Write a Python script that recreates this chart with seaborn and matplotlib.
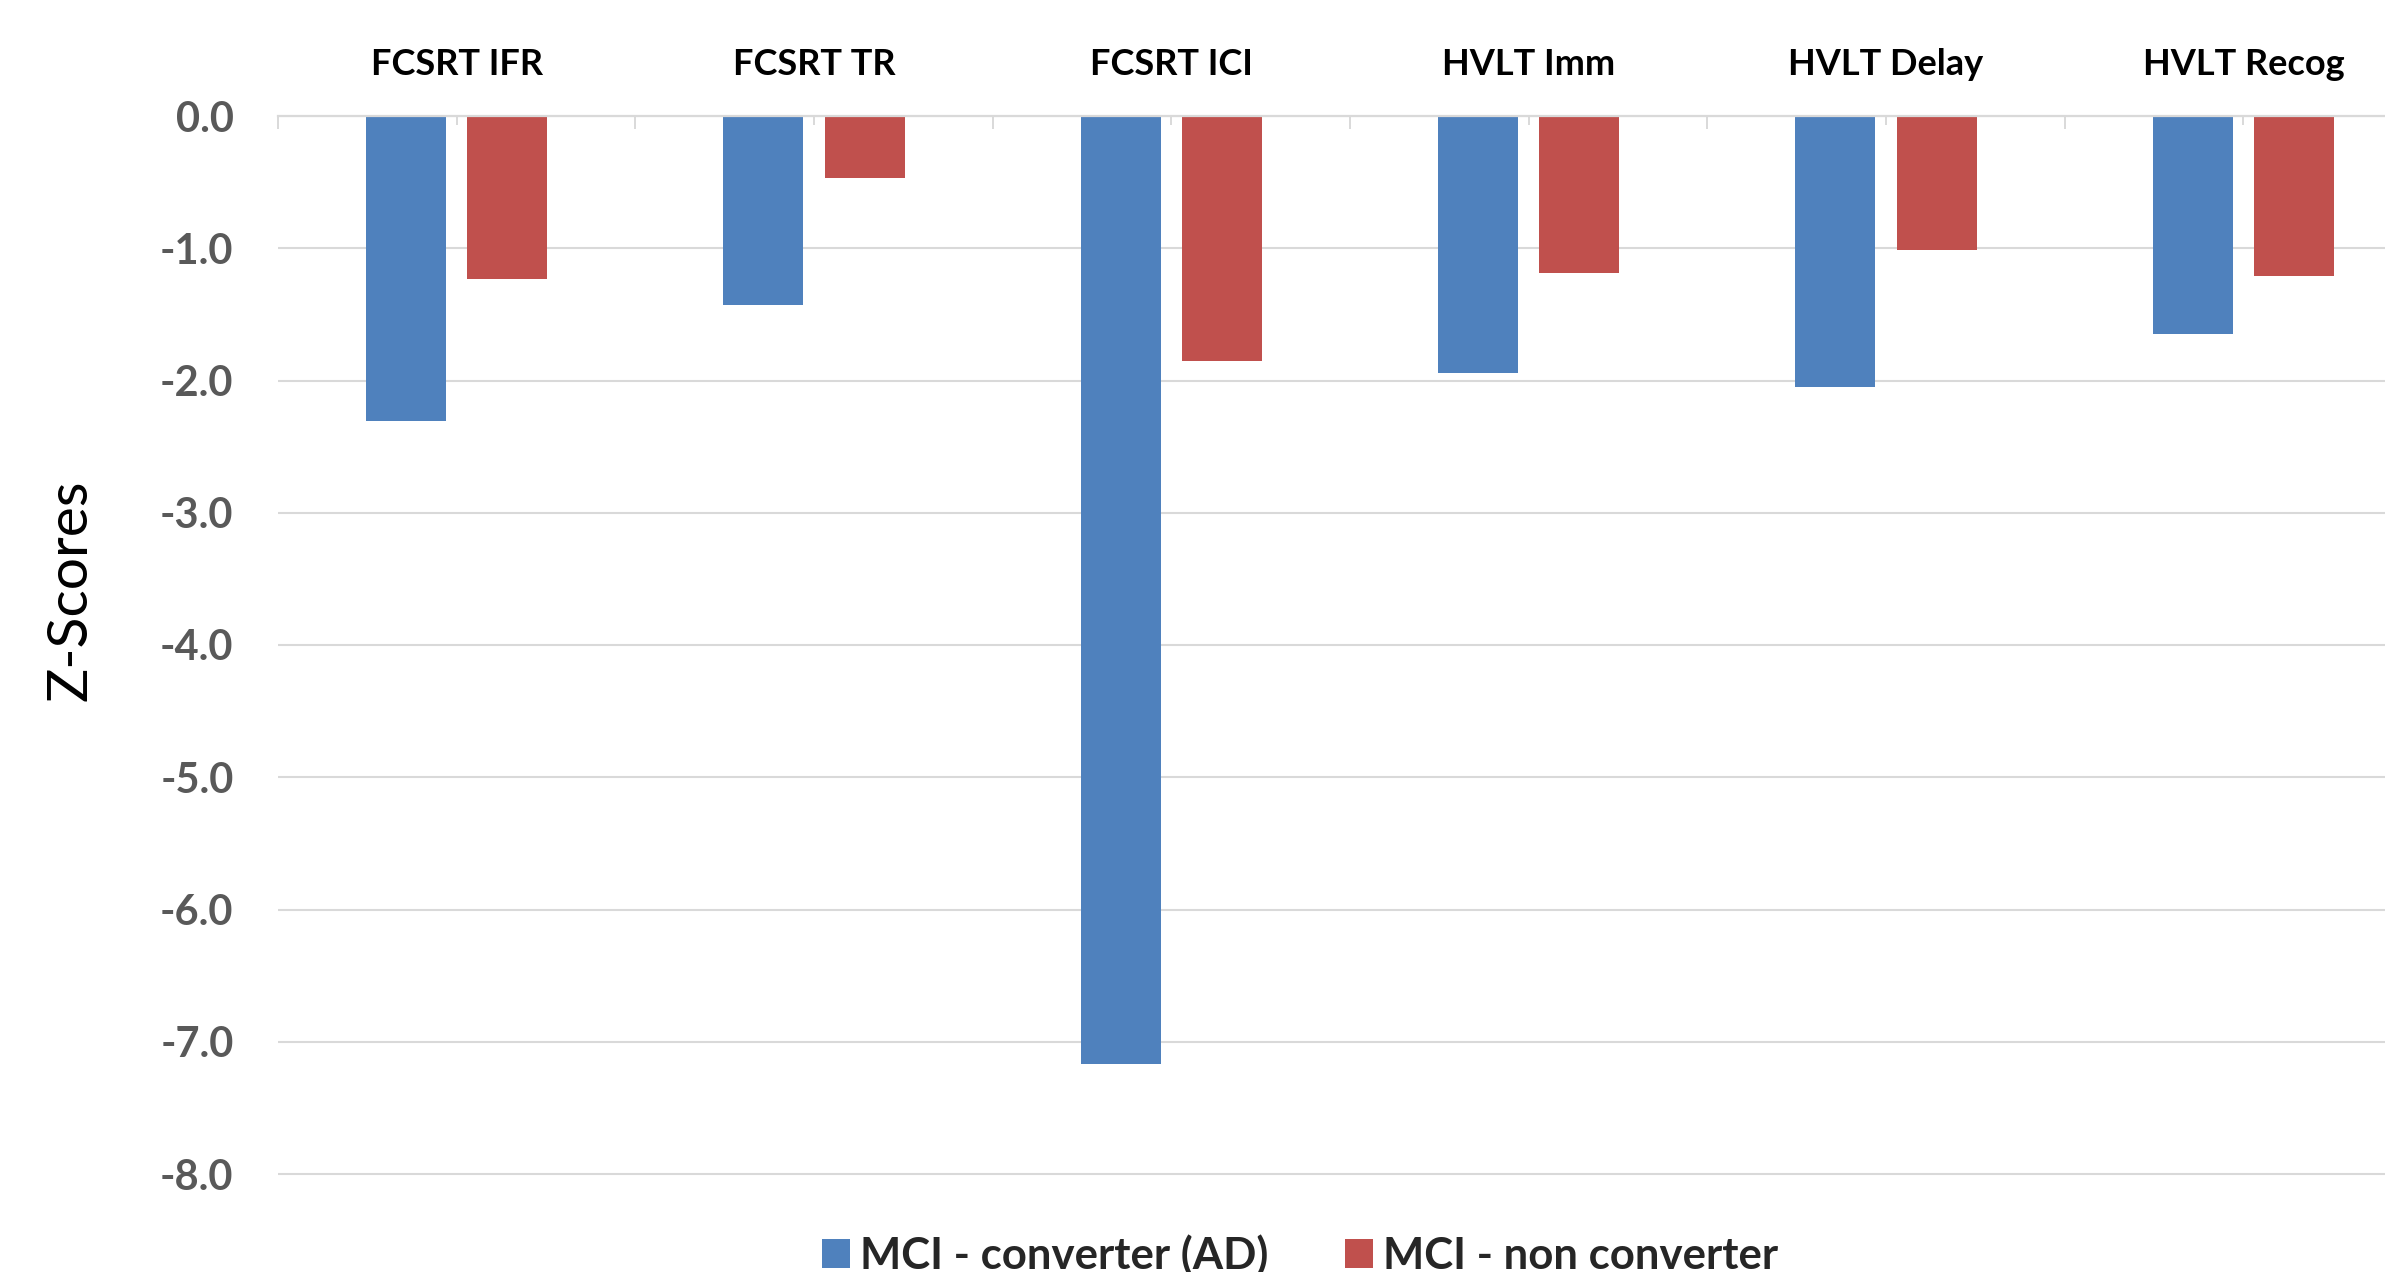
import matplotlib
matplotlib.use("Agg")
import matplotlib.pyplot as plt
import seaborn as sns
import pandas as pd
from matplotlib.ticker import FixedLocator

# ---- data ----
categories = ["FCSRT IFR", "FCSRT TR", "FCSRT ICI", "HVLT Imm", "HVLT Delay", "HVLT Recog"]
converter = [-2.31, -1.43, -7.17, -1.94, -2.05, -1.65]
non_converter = [-1.23, -0.47, -1.85, -1.19, -1.01, -1.21]
series_names = ["MCI - converter (AD)", "MCI - non converter"]
y_ticks = [0.0, -1.0, -2.0, -3.0, -4.0, -5.0, -6.0, -7.0, -8.0]
y_tick_labels = [f"{v:.1f}" for v in y_ticks]
y_label = "Z-Scores"

colors = {series_names[0]: "#4F81BD", series_names[1]: "#C0504D"}

df = pd.DataFrame({
    "test": categories * 2,
    "z": converter + non_converter,
    "group": [series_names[0]] * len(categories) + [series_names[1]] * len(categories),
})

sns.set_theme(style="white")
plt.rcParams["font.family"] = ["Lato", "DejaVu Sans"]

W, H = 2385, 1272
fig = plt.figure(figsize=(W / 100, H / 100), dpi=100)
ymin = -8.02
ax_h = 1058 * (-ymin) / 8.0
ax = fig.add_axes([278 / W, (H - 116 - ax_h) / H, 2144 / W, ax_h / H])

sns.barplot(data=df, x="test", y="z", hue="group", order=categories,
            hue_order=series_names, palette=colors, saturation=1,
            width=0.568, gap=0.21, errorbar=None, linewidth=0, ax=ax)

ax.set_xlim(-0.5, len(categories) - 0.5)
ax.set_ylim(ymin, 0)

# y axis
ax.set_yticks(y_ticks)
ax.set_yticklabels(y_tick_labels, fontsize=30, fontweight="bold", color="#595959")
ax.tick_params(axis="y", length=0, pad=32)
ax.yaxis.grid(True, color="#D9D9D9", linewidth=1.5)
ax.xaxis.grid(False)
ax.set_axisbelow(True)

# x axis on top
ax.xaxis.tick_top()
ax.xaxis.set_label_position("top")
ax.set_xticks(range(len(categories)))
ax.set_xticklabels(categories, fontsize=26, fontweight="bold", color="black")
ax.xaxis.set_minor_locator(FixedLocator([i - 0.5 for i in range(len(categories) + 1)]))
ax.tick_params(axis="x", which="major", direction="in", length=6.5, width=1.4,
               color="#D9D9D9", top=True, bottom=False, pad=25)
ax.tick_params(axis="x", which="minor", direction="in", length=9.4, width=1.4,
               color="#D9D9D9", top=True, bottom=False)
ax.set_xlabel("")

for s in ["left", "right", "bottom"]:
    ax.spines[s].set_visible(False)
ax.spines["top"].set_color("#D9D9D9")
ax.spines["top"].set_linewidth(1.6)

ax.set_ylabel(y_label, fontsize=41, color="black", fontweight="normal")
ax.yaxis.label.set_verticalalignment("center")
ax.yaxis.set_label_coords((71 - 278) / 2144, (1174 - 589) / 1058)

# legend
handles, labels = ax.get_legend_handles_labels()
if ax.get_legend() is not None:
    ax.get_legend().remove()
fig.legend(handles, labels, loc="center", bbox_to_anchor=(1300.5 / W, 1 - 1255 / H),
           ncol=2, frameon=False, prop={"weight": "bold", "size": 31.5},
           handlelength=0.62, handleheight=0.62, handletextpad=0.25,
           columnspacing=1.75, borderpad=0, borderaxespad=0)

fig.savefig("out.png", dpi=100)
